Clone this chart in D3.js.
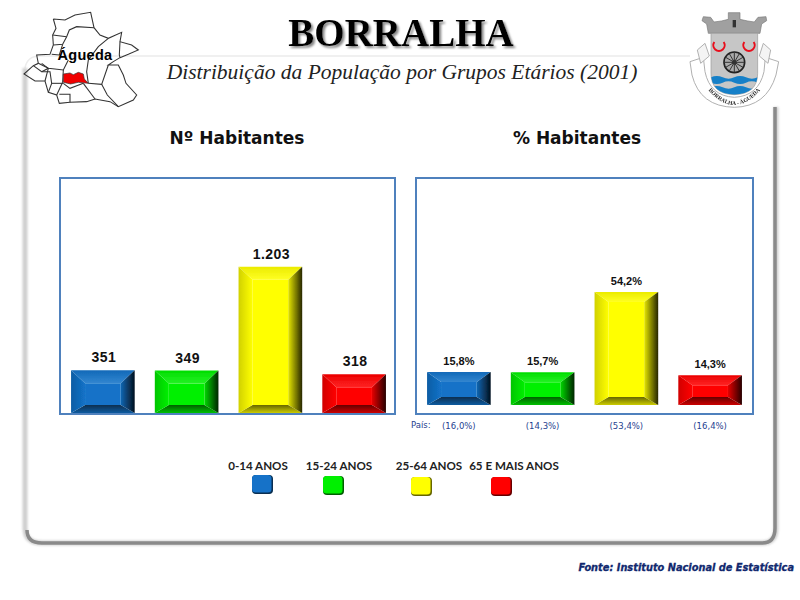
<!DOCTYPE html>
<html>
<head>
<meta charset="utf-8">
<script src="https://cdn.jsdelivr.net/npm/d3@7"></script>
<style>
  html, body { margin: 0; padding: 0; background: #fff; }
  svg { display: block; }
</style>
</head>
<body>
<div id="chart"></div>
<script>
// Data
const categories = ['0-14 ANOS', '15-24 ANOS', '25-64 ANOS', '65 E MAIS ANOS'];
const habitantes = [351, 349, 1203, 318];
const percentagem = [15.8, 15.7, 54.2, 14.3];
const pais = [16.0, 14.3, 53.4, 16.4];
const barColors = ['#1272c8', '#00f000', '#ffff00', '#ff0000'];

const fmtCount = n => d3.format(',')(n).replace(/,/g, '.');
const fmtPct = n => n.toFixed(1).replace('.', ',') + '%';

const svg = d3.select('#chart').append('svg').attr('width', 800).attr('height', 600);
const defs = svg.append('defs');

// Slight softness, the reference is a scaled-up bitmap
defs.append('filter').attr('id', 'soft').append('feGaussianBlur').attr('stdDeviation', 0.35);
defs.append('filter').attr('id', 'soft3').append('feGaussianBlur').attr('stdDeviation', 0.9);
defs.append('filter').attr('id', 'blur1').append('feGaussianBlur').attr('stdDeviation', 1);
defs.append('filter').attr('id', 'titleShadow')
  .append('feDropShadow').attr('dx', 2).attr('dy', 2).attr('stdDeviation', 0.8)
  .attr('flood-color', '#888');

// Gradients for the bevelled bars, one set per colour
function grad(id, vertical, from, to) {
  const g = defs.append('linearGradient').attr('id', id)
    .attr('x1', 0).attr('y1', 0).attr('x2', vertical ? 0 : 1).attr('y2', vertical ? 1 : 0);
  g.append('stop').attr('offset', 0).attr('stop-color', from);
  g.append('stop').attr('offset', 1).attr('stop-color', to);
}
barColors.forEach((c, i) => {
  const black = t => d3.interpolateRgb(c, '#000')(t);
  const white = t => d3.interpolateRgb(c, '#fff')(t);
  grad(`top${i}`, true, black(0.08), white(0.14));
  grad(`left${i}`, false, black(0.18), c);
  grad(`right${i}`, false, black(0.1), black(0.85));
  grad(`bottom${i}`, true, black(0.6), black(0.2));
  grad(`mid${i}`, true, c, c);
});

// Bevelled bar: five polygons inside x0..x1, y0..y1
function drawBars(g, xScale, yScale, values, bevel) {
  const bars = g.selectAll('g.bar').data(values).enter().append('g').attr('class', 'bar');
  const faces = [
    ['mid', (a, b, c, d, i) => [[a + i.s, c + i.t], [b - i.s, c + i.t], [b - i.s, d - i.b], [a + i.s, d - i.b]]],
    ['top', (a, b, c, d, i) => [[a, c], [b, c], [b - i.s, c + i.t], [a + i.s, c + i.t]]],
    ['bottom', (a, b, c, d, i) => [[a + i.s, d - i.b], [b - i.s, d - i.b], [b, d], [a, d]]],
    ['left', (a, b, c, d, i) => [[a, c], [a + i.s, c + i.t], [a + i.s, d - i.b], [a, d]]],
    ['right', (a, b, c, d, i) => [[b, c], [b, d], [b - i.s, d - i.b], [b - i.s, c + i.t]]]
  ];
  bars.each(function (v, i) {
    const a = xScale(categories[i]);
    const b = a + xScale.bandwidth();
    const c = yScale(v);
    const d = yScale(0);
    faces.forEach(([name, pts]) => {
      d3.select(this).append('polygon')
        .attr('points', pts(a, b, c, d, bevel).join(' '))
        .attr('fill', `url(#${name}${i})`);
    });
  });
  return bars;
}

// Page frame
const frame = svg.append('g');
frame.append('path')
  .attr('d', 'M690,56 H40 Q27,56 25,68')
  .attr('fill', 'none').attr('stroke', '#ececec').attr('stroke-width', 1.5);
frame.append('path')
  .attr('d', 'M25,68 V528 Q25,543 42,543 H762 Q776,543 776,528 V107')
  .attr('fill', 'none').attr('stroke', '#cfcfcf').attr('stroke-width', 5).attr('filter', 'url(#blur1)');
frame.append('path')
  .attr('d', 'M27,530 Q27,543 42,543 H762 Q775,543 775,528 V107')
  .attr('fill', 'none').attr('stroke', '#8a8a8a').attr('stroke-width', 3.5).attr('filter', 'url(#soft)');

// Titles
svg.append('text').attr('x', 401).attr('y', 46).attr('text-anchor', 'middle')
  .attr('font-family', 'Liberation Serif').attr('font-weight', 'bold').attr('font-size', 39)
  .attr('filter', 'url(#titleShadow)').text('BORRALHA');
svg.append('text').attr('x', 402).attr('y', 79).attr('text-anchor', 'middle')
  .attr('font-family', 'Liberation Serif').attr('font-style', 'italic').attr('font-size', 21.5)
  .attr('fill', '#222').text('Distribuição da População por Grupos Etários (2001)');

// Left chart: number of inhabitants
const chartTop = 178;
const x1 = d3.scaleBand().domain(categories).range([61, 396]).paddingInner(0.24).paddingOuter(0.12);
const y1 = d3.scaleLinear().domain([0, 1934]).range([413, chartTop]);
// Right chart: share of inhabitants
const x2 = d3.scaleBand().domain(categories).range([417, 752]).paddingInner(0.24).paddingOuter(0.12);
const y2 = d3.scaleLinear().domain([0, 108.9]).range([405, chartTop]);

const boxes = [[60, 395], [416, 753]];
svg.selectAll('rect.box').data(boxes).enter().append('rect').attr('class', 'box')
  .attr('x', d => d[0]).attr('y', chartTop).attr('width', d => d[1] - d[0]).attr('height', 236)
  .attr('fill', '#fff').attr('stroke', '#4f81bd').attr('stroke-width', 2);

const chartHeads = [['Nº Habitantes', 237], ['% Habitantes', 577]];
svg.selectAll('text.head').data(chartHeads).enter().append('text').attr('class', 'head')
  .attr('x', d => d[1]).attr('y', 144).attr('text-anchor', 'middle')
  .attr('font-family', 'DejaVu Sans').attr('font-weight', 'bold').attr('font-size', 17)
  .attr('fill', '#111').text(d => d[0]);

drawBars(svg.append('g').attr('filter', 'url(#soft)'), x1, y1, habitantes, { s: 14, t: 13, b: 8 });
drawBars(svg.append('g').attr('filter', 'url(#soft)'), x2, y2, percentagem, { s: 14, t: 10, b: 8 });

// Value labels
svg.selectAll('text.v1').data(habitantes).enter().append('text').attr('class', 'v1')
  .attr('x', (d, i) => x1(categories[i]) + x1.bandwidth() / 2 + 1).attr('y', d => y1(d) - 8)
  .attr('text-anchor', 'middle').attr('font-family', 'Liberation Sans').attr('font-weight', 'bold')
  .attr('font-size', 14).attr('letter-spacing', 0.4).attr('fill', '#111').text(fmtCount);
svg.selectAll('text.v2').data(percentagem).enter().append('text').attr('class', 'v2')
  .attr('x', (d, i) => x2(categories[i]) + x2.bandwidth() / 2).attr('y', d => y2(d) - 7)
  .attr('text-anchor', 'middle').attr('font-family', 'Liberation Sans').attr('font-weight', 'bold')
  .attr('font-size', 11).attr('fill', '#111').text(fmtPct);

// National figures under the right chart
svg.append('text').attr('x', 411).attr('y', 428).attr('font-family', 'DejaVu Sans')
  .attr('font-size', 8.5).attr('fill', '#1f3f8f').text('País:');
svg.selectAll('text.pais').data(pais).enter().append('text').attr('class', 'pais')
  .attr('x', (d, i) => x2(categories[i]) + x2.bandwidth() / 2).attr('y', 429)
  .attr('text-anchor', 'middle').attr('font-family', 'DejaVu Sans').attr('font-size', 8.5)
  .attr('fill', '#1f3f8f').text(d => `(${fmtPct(d)})`);

// Legend
const legendLabelX = [258, 339, 429, 514];
const legendBoxX = [252, 323, 411, 491];
const legendBoxY = [475, 476, 477, 477];
const legend = svg.selectAll('g.legend').data(categories).enter().append('g').attr('class', 'legend');
legend.append('text').attr('x', (d, i) => legendLabelX[i]).attr('y', 470).attr('text-anchor', 'middle')
  .attr('font-family', 'Lato').attr('font-weight', 'bold').attr('font-size', 11.6).attr('fill', '#222')
  .text(d => d);
const legendBoxes = legend.append('g').attr('filter', 'url(#soft)');
legendBoxes.append('rect').attr('x', (d, i) => legendBoxX[i]).attr('y', (d, i) => legendBoxY[i])
  .attr('width', 21).attr('height', 19).attr('rx', 4)
  .attr('fill', (d, i) => d3.interpolateRgb(barColors[i], '#000')(0.6));
legendBoxes.append('rect').attr('x', (d, i) => legendBoxX[i]).attr('y', (d, i) => legendBoxY[i])
  .attr('width', 19.5).attr('height', 17.5).attr('rx', 3.5)
  .attr('fill', (d, i) => barColors[i]);

// Source
svg.append('text').attr('x', 794).attr('y', 571).attr('text-anchor', 'end')
  .attr('font-family', 'DejaVu Sans').attr('font-weight', 'bold').attr('font-style', 'italic')
  .attr('font-size', 9.8).attr('stroke', '#10286e').attr('stroke-width', 0.3)
  .attr('fill', '#10286e').text('Fonte: Instituto Nacional de Estatística');

// Locator map (drawn in 3x crop units)
const map = svg.append('g').attr('transform', 'translate(20,5) scale(0.3333)').attr('filter', 'url(#soft3)');
const mapLine = d3.line().curve(d3.curveLinear);
const mapBorders = [
  [[100,42],[135,45],[165,30],[212,22],[222,68],[240,90],[265,100],[305,82],[300,110],[335,120],[355,135],[325,148],[300,158],[280,170],[265,180],[295,180],[310,210],[318,235],[350,270],[340,285],[295,305],[270,290],[225,282],[200,290],[150,292],[118,295],[110,270],[85,262],[75,228],[45,228],[12,207],[40,182],[55,175],[50,150],[90,148],[100,120],[98,90],[108,70],[100,42]],
  [[222,68],[170,65],[148,75],[140,95],[128,118],[100,120]], [[140,95],[98,90]], [[128,118],[118,150],[95,148]],
  [[265,100],[235,125],[205,165],[200,200],[205,235]], [[300,110],[298,150],[300,158]],
  [[55,175],[85,190],[130,195],[145,165]], [[85,190],[75,228]], [[130,195],[128,232]],
  [[40,182],[65,200],[90,200],[95,235],[85,262]], [[95,235],[130,235]], [[128,232],[110,270]],
  [[205,235],[245,238],[265,180]], [[245,238],[262,270],[295,305]], [[190,235],[225,282]],
  [[130,235],[150,250],[190,235]], [[118,268],[150,268],[150,292]], [[65,175],[85,190],[65,200]]
];
map.selectAll('path.b').data(mapBorders).enter().append('path').attr('class', 'b')
  .attr('d', mapLine).attr('fill', 'none').attr('stroke', '#333').attr('stroke-width', 3.2);
map.append('path')
  .attr('d', mapLine([[130,207],[150,204],[160,209],[175,202],[190,207],[193,222],[205,235],[175,232],[152,237],[130,232],[130,207]]))
  .attr('fill', '#f00000').attr('stroke', '#333').attr('stroke-width', 2);
svg.append('text').attr('x', 85).attr('y', 60).attr('text-anchor', 'middle')
  .attr('font-family', 'Liberation Sans').attr('font-weight', 'bold').attr('font-size', 14.5)
  .attr('letter-spacing', 0.3).attr('fill', '#000').text('Águeda');

// Coat of arms (drawn in 3x crop units)
const crest = svg.append('g').attr('transform', 'translate(640,0) scale(0.3333)').attr('filter', 'url(#soft3)');
// ribbon
crest.append('path')
  .attr('d', 'M150,185 L190,172 L195,215 Q210,288 283,292 Q356,288 372,215 L376,172 L416,185 L408,225 Q380,320 283,322 Q180,320 156,225 Z')
  .attr('fill', '#fff').attr('stroke', '#b0b0b0').attr('stroke-width', 3);
crest.selectAll('path.bow').data(['M172,150 L195,130 L208,168 L182,190 Z', 'M392,150 L370,130 L358,168 L384,190 Z'])
  .enter().append('path').attr('class', 'bow').attr('d', d => d)
  .attr('fill', '#f4f4f4').attr('stroke', '#b0b0b0').attr('stroke-width', 3);
// crown
crest.append('path')
  .attr('d', 'M205,100 L200,72 L186,62 L190,50 L212,52 L222,66 Q245,64 265,58 L265,38 L300,38 L300,58 Q325,64 343,66 L354,52 L378,50 L380,62 L365,72 L360,100 Z')
  .attr('fill', '#a0a0a0').attr('stroke', '#7a7a7a').attr('stroke-width', 2);
crest.append('rect').attr('x', 278).attr('y', 60).attr('width', 10).attr('height', 22).attr('fill', '#333');
// shield
const shieldPath = 'M213,100 H353 V220 Q353,282 283,284 Q213,282 213,220 Z';
crest.append('path').attr('d', shieldPath).attr('fill', '#c6c6c6').attr('stroke', '#999').attr('stroke-width', 2);
crest.append('clipPath').attr('id', 'shieldClip').append('path').attr('d', shieldPath);
const waves = crest.append('g').attr('clip-path', 'url(#shieldClip)');
waves.selectAll('path.sea').data([
  'M213,232 Q230,224 248,232 T283,232 T318,232 T353,232 V248 Q335,240 318,248 T283,248 T248,248 T213,248 Z',
  'M213,262 Q230,254 248,262 T283,262 T318,262 T353,262 V290 H213 Z'
]).enter().append('path').attr('class', 'sea').attr('d', d => d).attr('fill', '#1580c8');
// crescents
crest.selectAll('path.moon').data([237, 327]).enter().append('path').attr('class', 'moon')
  .attr('d', d => `M${d - 14},126 A17,17 0 1 0 ${d + 14},126`)
  .attr('fill', 'none').attr('stroke', '#e8101c').attr('stroke-width', 6);
// wheel
crest.append('circle').attr('cx', 283).attr('cy', 187).attr('r', 31).attr('fill', '#aaa').attr('stroke', '#222').attr('stroke-width', 5);
crest.selectAll('line.spoke').data(d3.range(6)).enter().append('line').attr('class', 'spoke')
  .attr('x1', d => 283 + 30 * Math.cos(d * Math.PI / 6)).attr('y1', d => 187 + 30 * Math.sin(d * Math.PI / 6))
  .attr('x2', d => 283 - 30 * Math.cos(d * Math.PI / 6)).attr('y2', d => 187 - 30 * Math.sin(d * Math.PI / 6))
  .attr('stroke', '#333').attr('stroke-width', 3);
crest.append('circle').attr('cx', 283).attr('cy', 187).attr('r', 7).attr('fill', '#333');
// ribbon text
crest.append('path').attr('id', 'ribbonArc').attr('d', 'M185,245 Q283,385 381,245').attr('fill', 'none');
crest.append('text').attr('font-family', 'Liberation Serif').attr('font-weight', 'bold').attr('font-size', 17)
  .attr('fill', '#222').attr('text-anchor', 'middle')
  .append('textPath').attr('href', '#ribbonArc').attr('startOffset', '50%').text('BORRALHA - ÁGUEDA');
</script>
</body>
</html>
